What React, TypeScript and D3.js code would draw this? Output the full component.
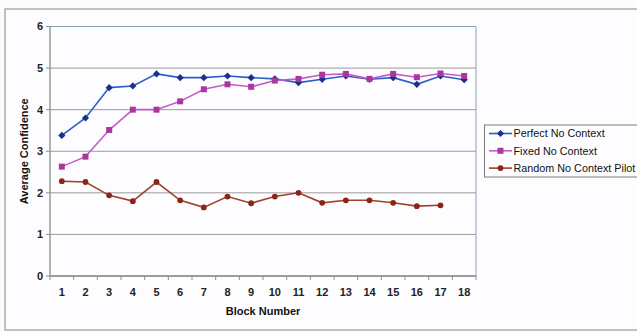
import React from "react";
import * as d3 from "d3";

const blocks = d3.range(1, 19);
const perfect = [3.38, 3.8, 4.53, 4.57, 4.86, 4.77, 4.77, 4.81, 4.77, 4.74, 4.65, 4.73, 4.81, 4.73, 4.77, 4.61, 4.81, 4.72];
const fixed = [2.63, 2.87, 3.51, 4.0, 4.0, 4.2, 4.49, 4.61, 4.55, 4.7, 4.74, 4.84, 4.86, 4.74, 4.86, 4.78, 4.87, 4.81];
const randomPilot = [2.28, 2.26, 1.94, 1.8, 2.26, 1.82, 1.65, 1.91, 1.75, 1.91, 2.0, 1.76, 1.82, 1.82, 1.76, 1.68, 1.7];
const yTicks = [0, 1, 2, 3, 4, 5, 6];

const seriesNames = ["Perfect No Context", "Fixed No Context", "Random No Context Pilot"];

const W = 637;
const H = 332;
const plot = { left: 50, right: 476, top: 26.5, bottom: 276 };

export default function App() {
  const x = d3.scaleBand<number>().domain(blocks).range([plot.left, plot.right]);
  const y = d3.scaleLinear().domain([0, 6]).range([plot.bottom, plot.top]);
  const cx = (i: number) => (x(blocks[i]) as number) + x.bandwidth() / 2;
  const line = d3
    .line<number>()
    .x((_, i) => cx(i))
    .y((d) => y(d));

  const series = [
    { name: seriesNames[0], data: perfect, line: "#2a5fc4", mark: "#1c2f8a", shape: "diamond" },
    { name: seriesNames[1], data: fixed, line: "#c65ccc", mark: "#a8389f", shape: "square" },
    { name: seriesNames[2], data: randomPilot, line: "#a2402e", mark: "#8c2418", shape: "circle" },
  ];

  const marker = (shape: string, px: number, py: number, color: string, key: React.Key) => {
    if (shape === "diamond") {
      const r = 3.6;
      return <path key={key} d={`M${px},${py - r}L${px + r},${py}L${px},${py + r}L${px - r},${py}Z`} fill={color} />;
    }
    if (shape === "square") {
      return <rect key={key} x={px - 3} y={py - 3} width={6} height={6} fill={color} />;
    }
    return <circle key={key} cx={px} cy={py} r={2.9} fill={color} />;
  };

  const font = "Liberation Sans, Arial, sans-serif";

  return (
    <svg width={W} height={H} style={{ position: "absolute", left: 0, top: 0, background: "#fcfcfe" }}>
      <rect x={0} y={0} width={W} height={H} fill="#fcfcfe" />
      <rect x={5} y={9} width={W + 10} height={321} fill="#fdfdff" stroke="#9a9a9a" strokeWidth={1.2} />

      {/* grid lines */}
      {yTicks.map((t) => (
        <line key={t} x1={plot.left} x2={plot.right} y1={y(t)} y2={y(t)} stroke={t === 6 ? "#8aa4b8" : "#9a9a9a"} strokeWidth={1} />
      ))}
      <line x1={plot.right} x2={plot.right} y1={plot.top} y2={plot.bottom} stroke="#8aa4b8" strokeWidth={1} />

      {/* axes */}
      <line x1={plot.left} x2={plot.left} y1={plot.top} y2={plot.bottom} stroke="#8c8c8c" strokeWidth={1.3} />
      <line x1={plot.left} x2={plot.right} y1={plot.bottom} y2={plot.bottom} stroke="#8c8c8c" strokeWidth={1.3} />
      {yTicks.map((t) => (
        <g key={t}>
          <line x1={plot.left - 4} x2={plot.left} y1={y(t)} y2={y(t)} stroke="#8c8c8c" />
          <text x={plot.left - 7} y={y(t)} dy="0.35em" textAnchor="end" fontFamily={font} fontSize={11} fontWeight="bold" fill="#222">
            {t}
          </text>
        </g>
      ))}
      {blocks.map((b) => (
        <line key={`t${b}`} x1={x(b) as number} x2={x(b) as number} y1={plot.bottom} y2={plot.bottom + 4} stroke="#8c8c8c" />
      ))}
      <line x1={plot.right} x2={plot.right} y1={plot.bottom} y2={plot.bottom + 4} stroke="#8c8c8c" />
      {blocks.map((b, i) => (
        <text key={`l${b}`} x={cx(i)} y={292} dy="0.35em" textAnchor="middle" fontFamily={font} fontSize={11} fontWeight="bold" fill="#222">
          {b}
        </text>
      ))}

      <text x={(plot.left + plot.right) / 2} y={311} dy="0.35em" textAnchor="middle" fontFamily={font} fontSize={11} fontWeight="bold" fill="#111">
        Block Number
      </text>
      <text
        transform={`translate(24,${(plot.top + plot.bottom) / 2}) rotate(-90)`}
        textAnchor="middle"
        dy="0.35em"
        fontFamily={font}
        fontSize={11}
        fontWeight="bold"
        fill="#111"
      >
        Average Confidence
      </text>

      {/* series */}
      {series.map((s) => (
        <g key={s.name}>
          <path d={line(s.data) as string} fill="none" stroke={s.line} strokeWidth={1.6} />
          {s.data.map((v, i) => marker(s.shape, cx(i), y(v), s.mark, i))}
        </g>
      ))}

      {/* legend */}
      <rect x={484.5} y={125} width={170} height={52} fill="#fdfdff" stroke="#7a7a7a" strokeWidth={1} />
      {series.map((s, i) => {
        const ly = 133.5 + i * 17.3;
        return (
          <g key={`lg${i}`}>
            <line x1={489} x2={512} y1={ly} y2={ly} stroke={s.line} strokeWidth={1.6} />
            {marker(s.shape, 500.5, ly, s.mark, "m")}
            <text x={513.5} y={ly} dy="0.35em" fontFamily={font} fontSize={10.8} fill="#111">
              {s.name}
            </text>
          </g>
        );
      })}
    </svg>
  );
}
